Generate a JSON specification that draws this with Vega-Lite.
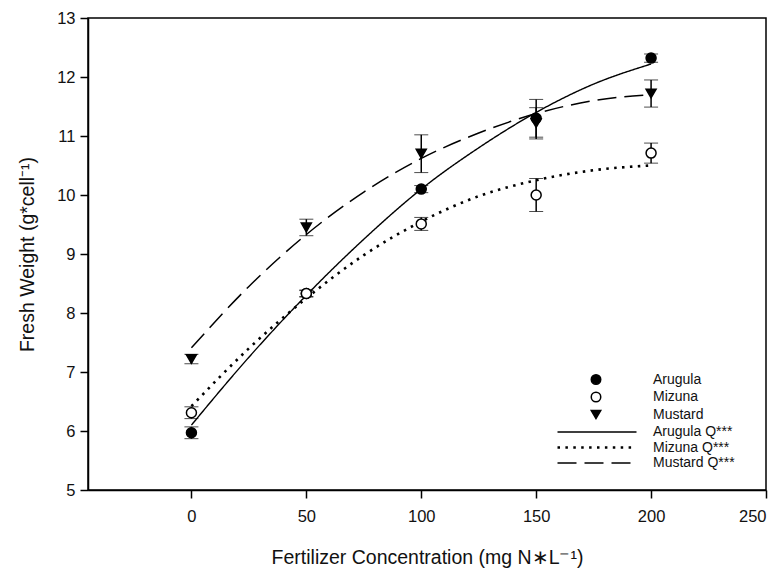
{
  "$schema": "https://vega.github.io/schema/vega-lite/v6.json",
  "width": 678,
  "height": 472,
  "autosize": {"type": "none"},
  "padding": {"left": 88, "top": 18, "right": 16, "bottom": 79},
  "background": "white",
  "config": {
    "font": "Liberation Sans",
    "view": {"stroke": "black", "strokeWidth": 1.5},
    "axis": {
      "domainColor": "black",
      "domainWidth": 1.5,
      "tickColor": "black",
      "tickWidth": 1.5,
      "tickSize": 8,
      "grid": false,
      "labelFont": "Liberation Sans",
      "labelFontSize": 16.5,
      "labelColor": "#111",
      "titleFont": "Liberation Sans",
      "titleFontSize": 19.5,
      "titleFontWeight": "normal",
      "titleColor": "#111"
    },
    "legend": {
      "labelFont": "Liberation Sans",
      "labelFontSize": 14,
      "labelColor": "#111",
      "padding": 0
    }
  },
  "datasets": {
    "means": [
      {"species": "Arugula", "conc": 0, "mean": 5.97, "lo": 5.87, "hi": 6.07},
      {"species": "Arugula", "conc": 50, "mean": 8.33, "lo": 8.27, "hi": 8.39},
      {"species": "Arugula", "conc": 100, "mean": 10.1, "lo": 10.04, "hi": 10.16},
      {"species": "Arugula", "conc": 150, "mean": 11.3, "lo": 10.98, "hi": 11.62},
      {"species": "Arugula", "conc": 200, "mean": 12.32, "lo": 12.25, "hi": 12.39},
      {"species": "Mizuna", "conc": 0, "mean": 6.31, "lo": 6.21, "hi": 6.41},
      {"species": "Mizuna", "conc": 50, "mean": 8.33, "lo": 8.28, "hi": 8.38},
      {"species": "Mizuna", "conc": 100, "mean": 9.51, "lo": 9.4, "hi": 9.62},
      {"species": "Mizuna", "conc": 150, "mean": 10.0, "lo": 9.72, "hi": 10.28},
      {"species": "Mizuna", "conc": 200, "mean": 10.71, "lo": 10.54, "hi": 10.88},
      {"species": "Mustard", "conc": 0, "mean": 7.22, "lo": 7.14, "hi": 7.3},
      {"species": "Mustard", "conc": 50, "mean": 9.45, "lo": 9.31, "hi": 9.59},
      {"species": "Mustard", "conc": 100, "mean": 10.7, "lo": 10.38, "hi": 11.02},
      {"species": "Mustard", "conc": 150, "mean": 11.22, "lo": 10.95, "hi": 11.48},
      {"species": "Mustard", "conc": 200, "mean": 11.72, "lo": 11.49, "hi": 11.95}
    ],
    "fits": [
      {"fit": "Arugula Q***", "conc": 0, "y": 6.1},
      {"fit": "Arugula Q***", "conc": 25, "y": 7.25},
      {"fit": "Arugula Q***", "conc": 50, "y": 8.3},
      {"fit": "Arugula Q***", "conc": 75, "y": 9.25},
      {"fit": "Arugula Q***", "conc": 100, "y": 10.1},
      {"fit": "Arugula Q***", "conc": 125, "y": 10.8},
      {"fit": "Arugula Q***", "conc": 150, "y": 11.4},
      {"fit": "Arugula Q***", "conc": 175, "y": 11.88},
      {"fit": "Arugula Q***", "conc": 200, "y": 12.22},
      {"fit": "Mizuna Q***", "conc": 0, "y": 6.42},
      {"fit": "Mizuna Q***", "conc": 25, "y": 7.4},
      {"fit": "Mizuna Q***", "conc": 50, "y": 8.25},
      {"fit": "Mizuna Q***", "conc": 75, "y": 8.98},
      {"fit": "Mizuna Q***", "conc": 100, "y": 9.55},
      {"fit": "Mizuna Q***", "conc": 125, "y": 9.98},
      {"fit": "Mizuna Q***", "conc": 150, "y": 10.25},
      {"fit": "Mizuna Q***", "conc": 175, "y": 10.42},
      {"fit": "Mizuna Q***", "conc": 200, "y": 10.5},
      {"fit": "Mustard Q***", "conc": 0, "y": 7.41},
      {"fit": "Mustard Q***", "conc": 25, "y": 8.45},
      {"fit": "Mustard Q***", "conc": 50, "y": 9.33},
      {"fit": "Mustard Q***", "conc": 75, "y": 10.05},
      {"fit": "Mustard Q***", "conc": 100, "y": 10.62},
      {"fit": "Mustard Q***", "conc": 125, "y": 11.05},
      {"fit": "Mustard Q***", "conc": 150, "y": 11.38},
      {"fit": "Mustard Q***", "conc": 175, "y": 11.6},
      {"fit": "Mustard Q***", "conc": 200, "y": 11.7}
    ]
  },
  "encoding": {
    "x": {
      "field": "conc",
      "type": "quantitative",
      "scale": {"domain": [-45, 250], "nice": false, "zero": false},
      "axis": {
        "values": [0, 50, 100, 150, 200, 250],
        "title": "Fertilizer Concentration (mg N∗L⁻¹)",
        "labelPadding": 10,
        "titlePadding": 24
      }
    }
  },
  "layer": [
    {
      "data": {"name": "fits"},
      "mark": {"type": "line", "color": "black", "interpolate": "monotone"},
      "encoding": {
        "y": {
          "field": "y",
          "type": "quantitative",
          "title": "Fresh Weight (g*cell⁻¹)",
          "scale": {"domain": [5, 13], "nice": false, "zero": false},
          "axis": {
            "values": [5, 6, 7, 8, 9, 10, 11, 12, 13],
            "format": "d",
            "title": "Fresh Weight (g*cell⁻¹)",
            "labelPadding": 5,
            "titlePadding": 19
          }
        },
        "detail": {"field": "fit"},
        "strokeDash": {
          "field": "fit",
          "type": "nominal",
          "scale": {
            "domain": ["Arugula Q***", "Mizuna Q***", "Mustard Q***"],
            "range": [[1, 0], [2.5, 5.4], [19, 8]]
          },
          "legend": {
            "title": null,
            "orient": "none",
            "legendX": 502,
            "legendY": 407,
            "symbolType": "M-7.9,0H7.9",
            "symbolSize": 100,
            "symbolStrokeColor": "black",
            "labelOffset": 49,
            "rowPadding": 1.5
          }
        },
        "strokeWidth": {
          "field": "fit",
          "type": "nominal",
          "scale": {
            "type": "ordinal",
            "domain": ["Arugula Q***", "Mizuna Q***", "Mustard Q***"],
            "range": [1.4, 2.6, 1.5]
          },
          "legend": {
            "title": null,
            "orient": "none",
            "legendX": 502,
            "legendY": 407,
            "symbolType": "M-7.9,0H7.9",
            "symbolSize": 100,
            "symbolStrokeColor": "black",
            "labelOffset": 49,
            "rowPadding": 1.5
          }
        }
      }
    },
    {
      "data": {"name": "means"},
      "mark": {"type": "errorbar", "ticks": {"size": 14, "color": "black", "strokeWidth": 1.5}, "rule": {"color": "black", "strokeWidth": 1.5}},
      "encoding": {
        "y": {"field": "lo", "type": "quantitative", "title": "Fresh Weight (g*cell⁻¹)"},
        "y2": {"field": "hi"}
      }
    },
    {
      "data": {"name": "means"},
      "mark": {"type": "point", "strokeWidth": 1.5, "opacity": 1, "fillOpacity": 1, "strokeOpacity": 1},
      "encoding": {
        "y": {"field": "mean", "type": "quantitative", "title": "Fresh Weight (g*cell⁻¹)"},
        "shape": {
          "field": "species",
          "type": "nominal",
          "scale": {
            "domain": ["Arugula", "Mizuna", "Mustard"],
            "range": ["circle", "circle", "triangle-down"]
          },
          "legend": {
            "title": null,
            "orient": "none",
            "legendX": 501,
            "legendY": 354.5,
            "symbolStrokeWidth": 1.5,
            "symbolSize": 90,
            "labelOffset": 50,
            "rowPadding": 1.5
          }
        },
        "fill": {
          "field": "species",
          "type": "nominal",
          "scale": {
            "domain": ["Arugula", "Mizuna", "Mustard"],
            "range": ["black", "white", "black"]
          },
          "legend": {
            "title": null,
            "orient": "none",
            "legendX": 501,
            "legendY": 354.5,
            "symbolStrokeWidth": 1.5,
            "symbolSize": 90,
            "labelOffset": 50,
            "rowPadding": 1.5
          }
        },
        "stroke": {
          "field": "species",
          "type": "nominal",
          "scale": {
            "domain": ["Arugula", "Mizuna", "Mustard"],
            "range": ["black", "black", "black"]
          },
          "legend": {
            "title": null,
            "orient": "none",
            "legendX": 501,
            "legendY": 354.5,
            "symbolStrokeWidth": 1.5,
            "symbolSize": 90,
            "labelOffset": 50,
            "rowPadding": 1.5
          }
        },
        "size": {"value": 100}
      }
    }
  ]
}
